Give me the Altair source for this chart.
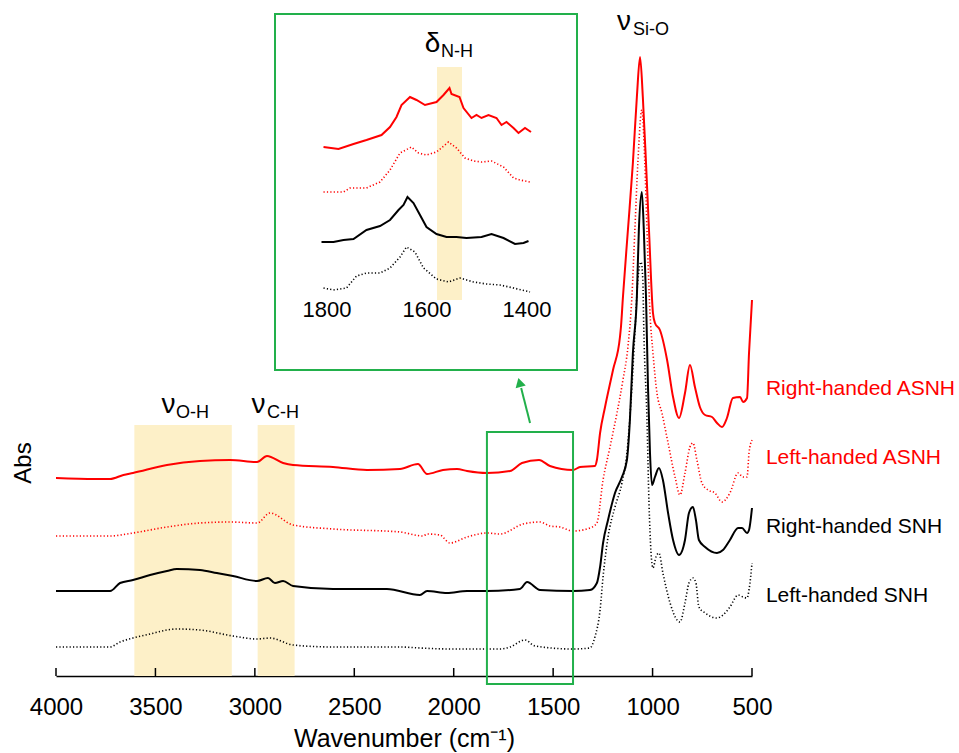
import altair as alt
import pandas as pd

# ---------------- main spectra (wavenumber, offset absorbance) ----------------
RH_ASNH_WN = [4000, 3804, 3728, 3661, 3613, 3442, 3276, 3125, 2989, 2939, 2858, 2808, 2607, 2436, 2270,
              2180, 2134, 2054, 1983, 1933, 1833, 1717, 1657, 1571, 1516, 1400, 1365, 1290, 1280, 1264,
              1239, 1199, 1164, 1159, 1149, 1124, 1099, 1079, 1063, 1049, 1033, 1018, 998, 988, 963,
              927, 897, 867, 837, 812, 787, 762, 736, 701, 676, 651, 626, 596, 560, 545, 525, 515, 500]
RH_ASNH_ABS = [1.98, 1.97, 1.97, 2.01, 2.03, 2.11, 2.15, 2.16, 2.14, 2.20, 2.13, 2.11, 2.09, 2.06, 2.07,
               2.12, 2.02, 2.06, 2.07, 2.05, 2.03, 2.05, 2.13, 2.16, 2.10, 2.06, 2.09, 2.10, 2.16, 2.43,
               2.69, 3.06, 3.39, 3.49, 3.79, 4.46, 5.13, 5.79, 6.19, 5.79, 5.13, 4.46, 3.63, 3.53, 3.46,
               3.16, 2.79, 2.58, 2.83, 3.11, 2.89, 2.69, 2.61, 2.59, 2.53, 2.49, 2.58, 2.78, 2.79, 2.74, 2.78, 3.23, 3.76]

LH_ASNH_WN = [4000, 3728, 3613, 3442, 3276, 3125, 2989, 2924, 2808, 2607, 2270, 2154, 2134, 2069, 2019,
              1933, 1833, 1767, 1651, 1566, 1516, 1465, 1400, 1315, 1280, 1249, 1214, 1179, 1149, 1124,
              1104, 1089, 1074, 1054, 1039, 1028, 1013, 998, 978, 953, 922, 887, 862, 837, 812,
              797, 777, 752, 721, 686, 651, 611, 570, 545, 525, 515, 500]
LH_ASNH_ABS = [1.40, 1.40, 1.43, 1.49, 1.53, 1.54, 1.53, 1.63, 1.51, 1.47, 1.44, 1.40, 1.42, 1.41, 1.33,
               1.39, 1.43, 1.42, 1.52, 1.54, 1.50, 1.49, 1.45, 1.48, 1.53, 1.96, 2.29, 2.63, 2.96, 3.29,
               3.79, 4.46, 5.13, 5.66, 5.13, 4.46, 3.63, 3.23, 2.83, 2.63, 2.33, 1.99, 1.81, 2.03, 2.29,
               2.33, 2.16, 1.93, 1.86, 1.83, 1.74, 1.83, 2.03, 1.99, 1.99, 2.23, 2.36]

RH_SNH_WN = [4000, 3728, 3678, 3613, 3527, 3442, 3392, 3276, 3191, 3110, 2989, 2934, 2899, 2858, 2808,
             2607, 2336, 2170, 2134, 2034, 1933, 1833, 1667, 1631, 1566, 1400, 1315, 1280, 1264, 1249,
             1224, 1189, 1154, 1129, 1114, 1099, 1079, 1069, 1054, 1044, 1033, 1023, 1013, 1003, 988,
             968, 948, 922, 897, 867, 837, 817, 797, 782, 767, 736, 676, 646, 611, 570, 550, 525, 515, 500]
RH_SNH_ABS = [0.85, 0.85, 0.93, 0.96, 1.01, 1.05, 1.07, 1.06, 1.03, 1.00, 0.95, 0.98, 0.93, 0.95, 0.90,
              0.87, 0.87, 0.81, 0.85, 0.83, 0.85, 0.85, 0.87, 0.94, 0.86, 0.85, 0.86, 0.93, 1.09, 1.33,
              1.56, 1.83, 1.99, 2.16, 2.56, 3.23, 3.79, 4.46, 4.84, 4.46, 3.79, 2.89, 2.23, 1.91, 1.99,
              2.08, 1.96, 1.63, 1.36, 1.21, 1.36, 1.63, 1.69, 1.56, 1.36, 1.29, 1.23, 1.26, 1.36, 1.48, 1.48, 1.43, 1.46, 1.68]

LH_SNH_WN = [4000, 3728, 3678, 3613, 3527, 3442, 3392, 3276, 3110, 2989, 2924, 2808, 2607, 2270, 2170,
             2019, 1767, 1717, 1642, 1591, 1400, 1315, 1290, 1264, 1249, 1224, 1189, 1154, 1129, 1104,
             1089, 1074, 1058, 1049, 1044, 1028, 1018, 998, 983, 968, 948, 912, 877, 862, 837,
             817, 797, 782, 767, 736, 676, 646, 611, 570, 545, 525, 515, 500]
LH_SNH_ABS = [0.29, 0.29, 0.34, 0.38, 0.42, 0.46, 0.47, 0.46, 0.40, 0.37, 0.38, 0.31, 0.29, 0.29, 0.28,
              0.27, 0.27, 0.29, 0.36, 0.30, 0.27, 0.28, 0.39, 0.66, 0.99, 1.39, 1.69, 1.93, 2.23, 2.89,
              3.43, 3.96, 4.14, 3.96, 3.46, 2.56, 1.73, 1.08, 1.19, 1.23, 1.03, 0.73, 0.56, 0.54, 0.73,
              0.93, 0.98, 0.93, 0.69, 0.63, 0.58, 0.61, 0.69, 0.81, 0.79, 0.78, 0.86, 1.13]

# ---------------- inset spectra (1800-1400 cm-1, magnified, offset) ----------------
IN_RH_ASNH_WN = [1807, 1777, 1747, 1721, 1691, 1674, 1661, 1651, 1634, 1621, 1604, 1581, 1567, 1555, 1551,
                 1535, 1527, 1511, 1501, 1491, 1477, 1461, 1451, 1441, 1427, 1417, 1404, 1392]
IN_RH_ASNH_ABS = [1.53, 1.51, 1.56, 1.60, 1.65, 1.73, 1.83, 1.95, 2.03, 2.00, 1.95, 1.98, 2.05, 2.12, 2.06,
                  2.03, 1.92, 1.82, 1.85, 1.82, 1.85, 1.82, 1.75, 1.78, 1.72, 1.67, 1.72, 1.68]
IN_LH_ASNH_WN = [1807, 1767, 1754, 1721, 1694, 1674, 1654, 1631, 1617, 1601, 1581, 1557, 1541, 1524, 1507,
                 1491, 1471, 1447, 1427, 1414, 1394]
IN_LH_ASNH_ABS = [1.08, 1.08, 1.12, 1.12, 1.18, 1.30, 1.47, 1.53, 1.47, 1.45, 1.48, 1.58, 1.52, 1.42, 1.39,
                  1.38, 1.39, 1.33, 1.22, 1.20, 1.18]
IN_RH_SNH_WN = [1811, 1787, 1767, 1747, 1721, 1694, 1674, 1657, 1647, 1639, 1627, 1614, 1601, 1581, 1561,
                1541, 1521, 1491, 1471, 1447, 1424, 1407, 1397]
IN_RH_SNH_ABS = [0.58, 0.58, 0.60, 0.61, 0.70, 0.74, 0.80, 0.90, 0.95, 1.03, 0.97, 0.85, 0.73, 0.66, 0.63,
                 0.63, 0.62, 0.63, 0.66, 0.62, 0.56, 0.57, 0.59]
IN_LH_SNH_WN = [1807, 1787, 1761, 1741, 1721, 1694, 1674, 1654, 1641, 1624, 1607, 1581, 1557, 1534, 1507,
                1481, 1454, 1427, 1394]
IN_LH_SNH_ABS = [0.12, 0.10, 0.12, 0.24, 0.27, 0.27, 0.32, 0.43, 0.53, 0.48, 0.32, 0.21, 0.18, 0.22, 0.18,
                 0.16, 0.15, 0.12, 0.08]

# ---------------- labels / annotations ----------------
TICK_VALUES = [4000, 3500, 3000, 2500, 2000, 1500, 1000, 500]
INSET_TICKS = [1800, 1600, 1400]
SERIES_NAMES = ["Right-handed ASNH", "Left-handed ASNH", "Right-handed SNH", "Left-handed SNH"]
SERIES_COLORS = ["#ff0000", "#ff0000", "#000000", "#000000"]
SERIES_DOTTED = [False, True, False, True]
LABEL_ABS = [2.81, 2.12, 1.43, 0.74]
BAND_FROM = [3606, 2986]
BAND_TO = [3116, 2800]
INSET_BAND = [1580, 1530]
GREEK_TEXT = ["ν", "ν", "ν"]
GREEK_WN = [3434, 2982, 1144]
GREEK_ABS = [2.63, 2.63, 6.46]
SUB_TEXT = ["O-H", "C-H", "Si-O"]
SUB_WN = [3397, 2939, 1098]
SUB_ABS = [2.58, 2.58, 6.41]

FONT = "Liberation Sans"
GREEN = "#22b04b"
BAND = "#fdf0c8"

X_AXIS = alt.Axis(values=TICK_VALUES, format="d", ticks=False, tickSize=0, grid=False,
                  domainColor="black", domainWidth=1.5, labelFlush=False, labelOverlap=False,
                  labelFont=FONT, labelFontSize=24, labelColor="black", labelPadding=19,
                  title="Wavenumber (cm⁻¹)", titleFont=FONT, titleFontSize=25,
                  titleFontWeight="normal", titleColor="black", titlePadding=7)
XM = alt.X("wn:Q", scale=alt.Scale(domain=[4000, 500], nice=False, zero=False), axis=X_AXIS)
YM = alt.Y("abs:Q", scale=alt.Scale(domain=[0, 6.4], nice=False, zero=False), axis=None)
XI = alt.X("wn:Q", scale=alt.Scale(domain=[2342, 950], nice=False, zero=False), axis=None)
YI = alt.Y("abs:Q", scale=alt.Scale(domain=[-3.76, 2.64], nice=False, zero=False), axis=None)


def line(wn, ab, color, dotted, X, Y, interp):
    df = pd.DataFrame({"wn": wn, "abs": ab})
    kw = dict(color=color, strokeWidth=1.6 if dotted else 2.0, interpolate=interp)
    if dotted:
        kw["strokeDash"] = [1.2, 2.2]
    return alt.Chart(df).mark_line(**kw).encode(
        x=X, y=Y, order=alt.Order("wn:Q", sort="descending"))


main_series = [(RH_ASNH_WN, RH_ASNH_ABS), (LH_ASNH_WN, LH_ASNH_ABS),
               (RH_SNH_WN, RH_SNH_ABS), (LH_SNH_WN, LH_SNH_ABS)]
inset_series = [(IN_RH_ASNH_WN, IN_RH_ASNH_ABS), (IN_LH_ASNH_WN, IN_LH_ASNH_ABS),
                (IN_RH_SNH_WN, IN_RH_SNH_ABS), (IN_LH_SNH_WN, IN_LH_SNH_ABS)]

bands = alt.Chart(pd.DataFrame({"wn": BAND_FROM, "wn2": BAND_TO, "abs": [2.51, 2.51], "abs2": [0, 0]})).mark_rect(
    color=BAND).encode(x=XM, x2="wn2:Q", y=YM, y2="abs2:Q")

tick_marks = alt.Chart(pd.DataFrame({"wn": TICK_VALUES})).mark_rule(color="black", strokeWidth=1.5).encode(
    x=XM, y=alt.value(640), y2=alt.value(632))

main_lines = [line(w, a, c, d, XM, YM, "monotone")
              for (w, a), c, d in zip(main_series, SERIES_COLORS, SERIES_DOTTED)]

zoom_rect = alt.Chart(pd.DataFrame({"wn": [1833], "wn2": [1400], "abs": [2.44], "abs2": [-0.08]})).mark_rect(
    fill=None, stroke=GREEN, strokeWidth=2).encode(x=XM, x2="wn2:Q", y=YM, y2="abs2:Q")

arrow_line = alt.Chart(pd.DataFrame({"wn": [1616], "wn2": [1661], "abs": [2.53], "abs2": [2.88]})).mark_rule(
    color=GREEN, strokeWidth=2).encode(x=XM, x2="wn2:Q", y=YM, y2="abs2:Q")
arrow_head = alt.Chart(pd.DataFrame({"wn": [1669], "abs": [2.935]})).mark_point(
    shape="triangle-up", filled=True, color=GREEN, opacity=1, size=110, angle=345).encode(x=XM, y=YM)

greek = alt.Chart(pd.DataFrame({"wn": GREEK_WN, "abs": GREEK_ABS, "t": GREEK_TEXT})).mark_text(
    font=FONT, fontSize=28, align="center", baseline="alphabetic", color="black").encode(x=XM, y=YM, text="t:N")
subs = alt.Chart(pd.DataFrame({"wn": SUB_WN, "abs": SUB_ABS, "t": SUB_TEXT})).mark_text(
    font=FONT, fontSize=18, align="left", baseline="alphabetic", color="black").encode(x=XM, y=YM, text="t:N")

labels = alt.Chart(pd.DataFrame({"wn": [430] * 4, "abs": LABEL_ABS, "t": SERIES_NAMES, "c": SERIES_COLORS})).mark_text(
    font=FONT, fontSize=21, align="left", baseline="alphabetic").encode(
    x=XM, y=YM, text="t:N", color=alt.Color("c:N", scale=None))

abs_title = alt.Chart(pd.DataFrame({"wn": [4160], "abs": [2.13], "t": ["Abs"]})).mark_text(
    font=FONT, fontSize=24, angle=270, align="center", baseline="middle", color="black").encode(
    x=XM, y=YM, text="t:N")

main = alt.layer(bands, tick_marks, *main_lines, zoom_rect, arrow_line, arrow_head, greek, subs, labels, abs_title)

# ---------------- inset ----------------
inset_band = alt.Chart(pd.DataFrame({"wn": [INSET_BAND[0]], "wn2": [INSET_BAND[1]], "abs": [2.33], "abs2": [0.0]})).mark_rect(
    color=BAND).encode(x=XI, x2="wn2:Q", y=YI, y2="abs2:Q")
inset_lines = [line(w, a, c, d, XI, YI, "linear")
               for (w, a), c, d in zip(inset_series, SERIES_COLORS, SERIES_DOTTED)]
inset_box = alt.Chart(pd.DataFrame({"wn": [1904], "wn2": [1300], "abs": [2.86], "abs2": [-0.70]})).mark_rect(
    fill=None, stroke=GREEN, strokeWidth=2).encode(x=XI, x2="wn2:Q", y=YI, y2="abs2:Q")
inset_ticks = alt.Chart(pd.DataFrame({"wn": INSET_TICKS, "abs": [-0.10] * 3, "t": [str(v) for v in INSET_TICKS]})).mark_text(
    font=FONT, fontSize=22, align="center", baseline="middle", color="black").encode(x=XI, y=YI, text="t:N")
delta = alt.Chart(pd.DataFrame({"wn": [1589], "abs": [2.48], "t": ["δ"]})).mark_text(
    font=FONT, fontSize=28, align="center", baseline="alphabetic", color="black").encode(x=XI, y=YI, text="t:N")
delta_sub = alt.Chart(pd.DataFrame({"wn": [1572], "abs": [2.43], "t": ["N-H"]})).mark_text(
    font=FONT, fontSize=18, align="left", baseline="alphabetic", color="black").encode(x=XI, y=YI, text="t:N")

inset = alt.layer(inset_band, *inset_lines, inset_box, inset_ticks, delta, delta_sub)

chart = alt.layer(main, inset).resolve_scale(x="independent", y="independent").properties(
    width=696, height=640,
    padding={"left": 56, "top": 36, "right": 207, "bottom": 77},
    autosize=alt.AutoSizeParams(type="none"),
).configure_view(stroke=None)

chart.save("out.html", embed_options={"renderer": "svg", "actions": False})
